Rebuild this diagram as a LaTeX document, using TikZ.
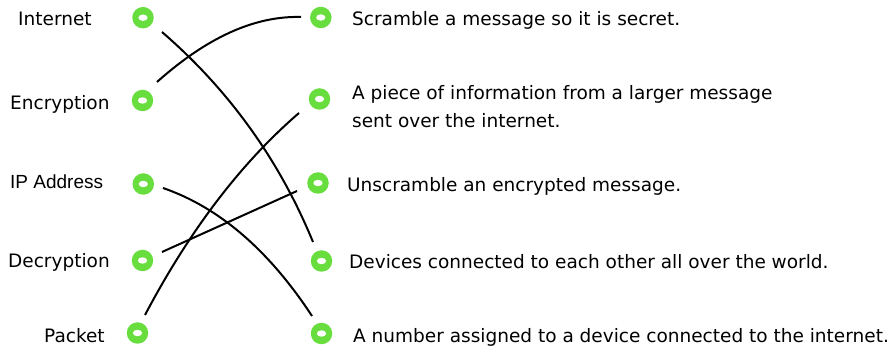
\documentclass[tikz,border=0pt]{standalone}
\usepackage{fontspec}
\setmainfont{DejaVu Sans}
\newfontfamily\arialfont{Liberation Sans}
\definecolor{dotgreen}{RGB}{104,222,62}
\begin{document}
\begin{tikzpicture}[x=1pt,y=-1pt,
  ringdot/.style={circle, fill=dotgreen, minimum size=21.5pt, inner sep=0pt,
    path picture={\fill[white, rotate around={22:(path picture bounding box.center)}]
      (path picture bounding box.center) ellipse (4.6pt and 3.2pt);}},
  lbl/.style={anchor=base west, inner sep=0pt, font=\fontsize{18.5}{28}\selectfont},
  wire/.style={line width=2pt, black}]
\useasboundingbox (0,0) rectangle (892,352);
% left labels
\node[lbl] (tInternet) at (18,26) {Internet};
\node[lbl] (tEncryption) at (10,110) {Encryption};
\node[lbl, font=\arialfont\fontsize{19}{24}\selectfont] (tIP) at (10,189) {IP Address};
\node[lbl] (tDecryption) at (8,268) {Decryption};
\node[lbl] (tPacket) at (44,343) {Packet};
% left dots
\node[ringdot] (L1) at (143,17.7) {};
\node[ringdot] (L2) at (142.5,100.5) {};
\node[ringdot] (L3) at (143.3,184) {};
\node[ringdot] (L4) at (142.5,260.5) {};
\node[ringdot] (L5) at (137.5,333) {};
% right dots
\node[ringdot] (R1) at (320.8,17.5) {};
\node[ringdot] (R2) at (319.5,99) {};
\node[ringdot] (R3) at (318,183) {};
\node[ringdot] (R4) at (321.5,261) {};
\node[ringdot] (R5) at (321.5,333.5) {};
% right texts
\node[lbl] (tR1) at (352,26) {Scramble a message so it is secret.};
\node[lbl, align=left] (tR2) at (352,128) {A piece of information from a larger message\\sent over the internet.};
\node[lbl] (tR3) at (347,192) {Unscramble an encrypted message.};
\node[lbl] (tR4) at (349,269) {Devices connected to each other all over the world.};
\node[lbl] (tR5) at (353,343) {A number assigned to a device connected to the internet.};
% connector ends
\coordinate (a1) at (162,32);   \coordinate (b1) at (313,242);
\coordinate (a2) at (157,82);   \coordinate (b2) at (301,17);
\coordinate (a3) at (163,188);  \coordinate (b3) at (312,316);
\coordinate (a4) at (162,252);  \coordinate (b4) at (297,191);
\coordinate (a5) at (145,315);  \coordinate (b5) at (299,113);
% connectors
\draw[wire] (a1) .. controls (229,90) and (279.3,160) .. (b1);
\draw[wire] (a2) .. controls (207,37.3) and (255,15.7) .. (b2);
\draw[wire] (a3) .. controls (219,207.3) and (268.7,250) .. (b3);
\draw[wire] (a4) -- (b4);
\draw[wire] (a5) .. controls (189.7,230.3) and (241,163) .. (b5);
\end{tikzpicture}
\end{document}
